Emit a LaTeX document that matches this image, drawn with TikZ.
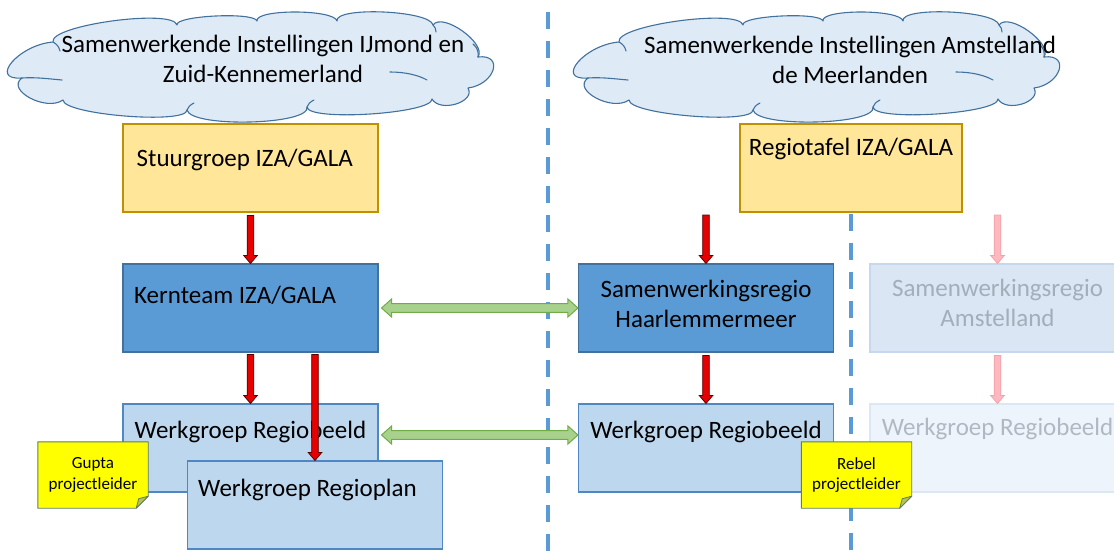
\documentclass[tikz,border=0pt]{standalone}
\usepackage{fontspec}
\setmainfont{Carlito}
\usetikzlibrary{calc}
\definecolor{cloudfill}{HTML}{DEEBF7}
\definecolor{clouddraw}{HTML}{41719C}
\definecolor{goldfill}{HTML}{FFE699}
\definecolor{golddraw}{HTML}{BF9000}
\definecolor{darkblue}{HTML}{5B9BD5}
\definecolor{darkbluedraw}{HTML}{41719C}
\definecolor{lightblue}{HTML}{BDD7EE}
\definecolor{lightbluedraw}{HTML}{4F87C2}
\definecolor{fadefill}{HTML}{DAE6F4}
\definecolor{fadedraw}{HTML}{C5D8EE}
\definecolor{fadetext}{HTML}{A3AEBA}
\definecolor{fadefilltwo}{HTML}{EEF4FB}
\definecolor{fadedrawtwo}{HTML}{DCE7F4}
\definecolor{fadetexttwo}{HTML}{B0B9C3}
\definecolor{dashblue}{HTML}{5B9BD5}
\definecolor{greenfill}{HTML}{A9D18E}
\definecolor{greendraw}{HTML}{70AD47}
\definecolor{redfill}{HTML}{E60000}
\definecolor{reddraw}{HTML}{5A0000}
\definecolor{pinkfill}{HTML}{FFB8BF}
\definecolor{pinkdraw}{HTML}{F2A2AA}
\definecolor{notefill}{HTML}{FFFF00}
\definecolor{notedraw}{HTML}{5F7F5F}
\definecolor{foldfill}{HTML}{B5C25A}
\begin{document}
\begin{tikzpicture}[x=1pt,y=-1pt,
  big/.style={font=\fontsize{25}{30}\selectfont, inner sep=0pt, text=black},
  small/.style={font=\fontsize{17}{20.5}\selectfont, inner sep=0pt, text=black, align=center},
  box/.style={rectangle, minimum width=255pt, minimum height=88pt, inner sep=0pt, line width=1.1pt},
  goldbox/.style={box, fill=goldfill, draw=golddraw},
  darkbox/.style={box, fill=darkblue, draw=darkbluedraw},
  lightbox/.style={box, fill=lightblue, draw=lightbluedraw},
  fadebox/.style={box, fill=fadefill, draw=fadedraw},
  fadeboxtwo/.style={box, fill=fadefilltwo, draw=fadedrawtwo},
  cloudstyle/.style={fill=cloudfill, draw=clouddraw, line width=1.1pt, line join=round},
  cloudinner/.style={draw=clouddraw, line width=1.1pt, line cap=round},
  divider/.style={draw=dashblue, line width=3.6pt, dash pattern=on 17pt off 12pt},
  notebox/.style={rectangle, minimum width=110pt, minimum height=66pt, inner sep=0pt},
  noteshape/.style={fill=notefill, draw=notedraw, line width=0.9pt, line join=miter},
  foldshape/.style={fill=foldfill, draw=notedraw, line width=0.8pt, line join=round},
  downarrow/.style={line width=0.8pt, line join=miter,
    to path={let \p1=(\tikztostart), \p2=(\tikztotarget) in
      (\x1-3.3pt,\y1) -- (\x1-3.3pt,\y2+8pt) -- (\x1-6.8pt,\y2+8pt) -- (\x1,\y2)
      -- (\x1+6.8pt,\y2+8pt) -- (\x1+3.3pt,\y2+8pt) -- (\x1+3.3pt,\y1) -- cycle}},
  redarrow/.style={downarrow, fill=redfill, draw=reddraw},
  pinkarrow/.style={downarrow, fill=pinkfill, draw=pinkdraw},
  dblarrow/.style={fill=greenfill, draw=greendraw, line width=1pt, line join=miter,
    to path={let \p1=(\tikztostart), \p2=(\tikztotarget) in
      (\x1,\y1) -- (\x1+10pt,\y1+9pt) -- (\x1+10pt,\y1+4.3pt) -- (\x2-10pt,\y1+4.3pt)
      -- (\x2-10pt,\y1+9pt) -- (\x2,\y1) -- (\x2-10pt,\y1-9pt) -- (\x2-10pt,\y1-4.3pt)
      -- (\x1+10pt,\y1-4.3pt) -- (\x1+10pt,\y1-9pt) -- cycle}},
  ppcloud/.pic={
    \draw[cloudstyle] (53,42)
      .. controls (49,25.3) and (173,8.3) .. (177,25)
      .. controls (174.3,15.7) and (254.3,11.7) .. (257,21)
      .. controls (254.3,9) and (334.3,9) .. (337,21)
      .. controls (334.3,6.3) and (430.3,10.3) .. (433,25)
      .. controls (442.3,11.7) and (487.3,43.7) .. (478,57)
      .. controls (504.7,53.7) and (494.7,84.7) .. (468,88)
      .. controls (476,102) and (440,113) .. (432,99)
      .. controls (432.7,113.7) and (307.7,121.7) .. (307,107)
      .. controls (311,125) and (191,128) .. (187,110)
      .. controls (187,124.7) and (63,114.7) .. (63,100)
      .. controls (46.3,112) and (5.3,90) .. (22,78)
      .. controls (-12,80.7) and (19,44.7) .. (53,42) -- cycle;
    \draw[cloudinner] (22,78) .. controls (36,77) and (50,79) .. (62,80);
    \draw[cloudinner] (390,72) .. controls (405,72) and (418,75) .. (427,80);
    \draw[cloudinner] (53,42) .. controls (57,44) and (59,47) .. (60,51);
    \draw[cloudinner] (478,57) .. controls (479,52) and (477,47) .. (473,44);
    \draw[cloudinner] (187,110) .. controls (188,107) and (190,105) .. (194,103);
    \draw[cloudinner] (307,107) .. controls (308,104) and (310,102) .. (314,100);
    \draw[cloudinner] (433,25) .. controls (435,27) and (436,29) .. (436,32);
  }
]
\clip (0,0) rectangle (1114,554);
\fill[white] (0,0) rectangle (1114,554);
\coordinate (bot) at (0,556);

% divider left
\draw[divider] (548,12) -- (548,556);

% clouds
\pic at (0,0) {ppcloud};
\node[big, align=center, anchor=north] (c1t) at (263,35) {Samenwerkende Instellingen IJmond en\\Zuid-Kennemerland};
\begin{scope}[shift={(566,0)}, xscale=1.1116]
\pic at (0,0) {ppcloud};
\end{scope}
\node[big, align=center, anchor=north] (c2t) at (850,36) {Samenwerkende Instellingen Amstelland\\de Meerlanden};

% top boxes
\node[goldbox] (st) at (250.5,168) {};
\node[big, anchor=base west] (stt) at ([xshift=14pt,yshift=-43pt]st.north west) {Stuurgroep IZA/GALA};
\node[goldbox, minimum width=222pt] (rt) at (851,168) {};
\node[big, anchor=base] (rtt) at ([yshift=-32pt]rt.north) {Regiotafel IZA/GALA};

% middle row
\node[darkbox] (kt) at (250.5,308) {};
\node[big, anchor=base west] (ktt) at ([xshift=11.5pt,yshift=-40pt]kt.north west) {Kernteam IZA/GALA};
\node[darkbox] (hm) at (706,308) {};
\node[big, align=center, anchor=north] (hmt) at ([yshift=-16pt]hm.north) {Samenwerkingsregio\\Haarlemmermeer};
\node[fadebox] (fa1) at (997.5,308) {};
\node[big, text=fadetext, align=center, anchor=north] (fa1t) at ([yshift=-15.5pt]fa1.north) {Samenwerkingsregio\\Amstelland};

% bottom row
\node[lightbox] (rb1) at (250.5,448) {};
\node[big, anchor=base west] (rb1t) at ([xshift=12pt,yshift=-35pt]rb1.north west) {Werkgroep Regiobeeld};
\node[lightbox] (rb2) at (706,448) {};
\node[big, anchor=base] (rb2t) at ([yshift=-35pt]rb2.north) {Werkgroep Regiobeeld};
\node[fadeboxtwo] (fa2) at (997.5,448) {};
\node[big, text=fadetexttwo, anchor=base] (fa2t) at ([yshift=-32pt]fa2.north) {Werkgroep Regiobeeld};

% divider right
\draw[divider] ([yshift=-1pt]rt.south) -- (rt.south |- bot);

% green double arrows
\draw[dblarrow] ([xshift=3pt]kt.east) to (hm.west);
\draw[dblarrow] ([xshift=3pt,yshift=13pt]rb1.east) to ([yshift=13pt]rb2.west);

% red / pink arrows
\coordinate (a1) at (706,215);
\coordinate (a2) at (997.5,215);
\coordinate (k2) at (kt.south -| 315,0);
\draw[redarrow] ([yshift=-3pt]st.south) to (kt.north);
\draw[redarrow] (a1) to (hm.north);
\draw[pinkarrow] (a2) to (fa1.north);
\draw[redarrow] ([yshift=-2pt]kt.south) to (rb1.north);
\draw[redarrow] ([yshift=-3pt]hm.south) to (rb2.north);
\draw[pinkarrow] ([yshift=-3pt]fa1.south) to (fa2.north);

% regioplan
\node[lightbox] (rp) at (315,505) {};
\node[big, anchor=base west] (rpt) at ([xshift=11pt,yshift=-36pt]rp.north west) {Werkgroep Regioplan};
\draw[redarrow] ([yshift=-2pt]k2) to (rp.north);

% notes
\node[notebox] (g) at (93,475) {};
\draw[noteshape] (g.north west) -- (g.north east) -- ([yshift=12pt]g.south east) -- ([xshift=-12pt]g.south east) -- (g.south west) -- cycle;
\draw[foldshape] ([yshift=12pt]g.south east) -- ([xshift=-12pt]g.south east) -- ([xshift=-9.5pt,yshift=9.5pt]g.south east) -- cycle;
\node[small] (gt) at (g.center) {Gupta\\projectleider};

\node[notebox] (r) at (856.5,475) {};
\draw[noteshape] (r.north west) -- (r.north east) -- ([yshift=12pt]r.south east) -- ([xshift=-12pt]r.south east) -- (r.south west) -- cycle;
\draw[foldshape] ([yshift=12pt]r.south east) -- ([xshift=-12pt]r.south east) -- ([xshift=-9.5pt,yshift=9.5pt]r.south east) -- cycle;
\node[small] (rtx) at (r.center) {Rebel\\projectleider};
\end{tikzpicture}
\end{document}
